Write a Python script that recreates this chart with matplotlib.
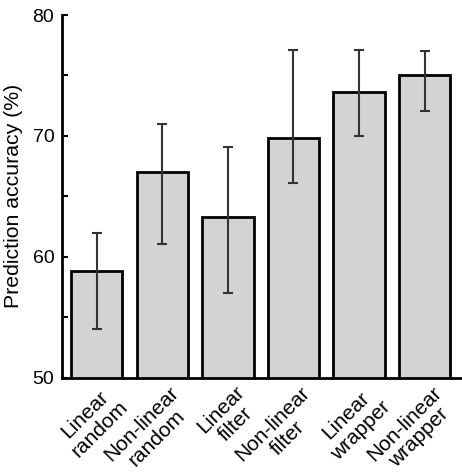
import matplotlib
matplotlib.use("Agg")
import matplotlib.pyplot as plt
from matplotlib.transforms import ScaledTranslation

categories = ["Linear\nrandom", "Non-linear\nrandom", "Linear\nfilter",
              "Non-linear\nfilter", "Linear\nwrapper", "Non-linear\nwrapper"]
means = [58.85, 67.05, 63.3, 69.8, 73.6, 75.05]
err_low = [54.0, 61.1, 57.0, 66.1, 70.0, 72.1]
err_high = [62.0, 71.0, 69.1, 77.1, 77.1, 77.0]
yticks = [50, 60, 70, 80]
yminor = [55, 65, 75]

plt.rcParams['font.family'] = ['Liberation Sans', 'DejaVu Sans']

fig = plt.figure(figsize=(4.62, 4.72), dpi=100)
ax = fig.add_axes([0.1342, 0.1998, 0.8658, 0.7684])

x = list(range(len(categories)))
ax.bar(x, means, width=0.785, color='#d3d3d3', edgecolor='black', linewidth=2, zorder=2)
yerr = [[m - l for m, l in zip(means, err_low)], [h - m for m, h in zip(means, err_high)]]
ax.errorbar(x, means, yerr=yerr, fmt='none', ecolor='#333333', elinewidth=1.5,
            capsize=3.3, capthick=1.5, zorder=3)

ax.set_ylim(50, 80)
ax.set_xlim(-0.53, 5.57)
ax.set_yticks(yticks)
ax.set_yticks(yminor, minor=True)
ax.tick_params(axis='y', which='major', direction='in', length=4, width=1.5, labelsize=14, pad=5.5)
ax.tick_params(axis='y', which='minor', direction='in', length=4, width=1.5)
ax.set_xticks(x)
ax.set_xticklabels([])
ax.tick_params(axis='x', length=0)
trans = ax.get_xaxis_transform() + ScaledTranslation(0.21, -0.19, fig.dpi_scale_trans)
for xi, lab in zip(x, categories):
    ax.text(xi, 0, lab, transform=trans, rotation=45, ha='right', va='center',
            rotation_mode='anchor', fontsize=15, multialignment='center',
            linespacing=1.12, clip_on=False)
for s in ['top', 'right']:
    ax.spines[s].set_visible(False)
for s in ['left', 'bottom']:
    ax.spines[s].set_linewidth(2)
ax.set_ylabel("Prediction accuracy (%)", fontsize=15.3, labelpad=7)

fig.savefig("out.png", dpi=100)
